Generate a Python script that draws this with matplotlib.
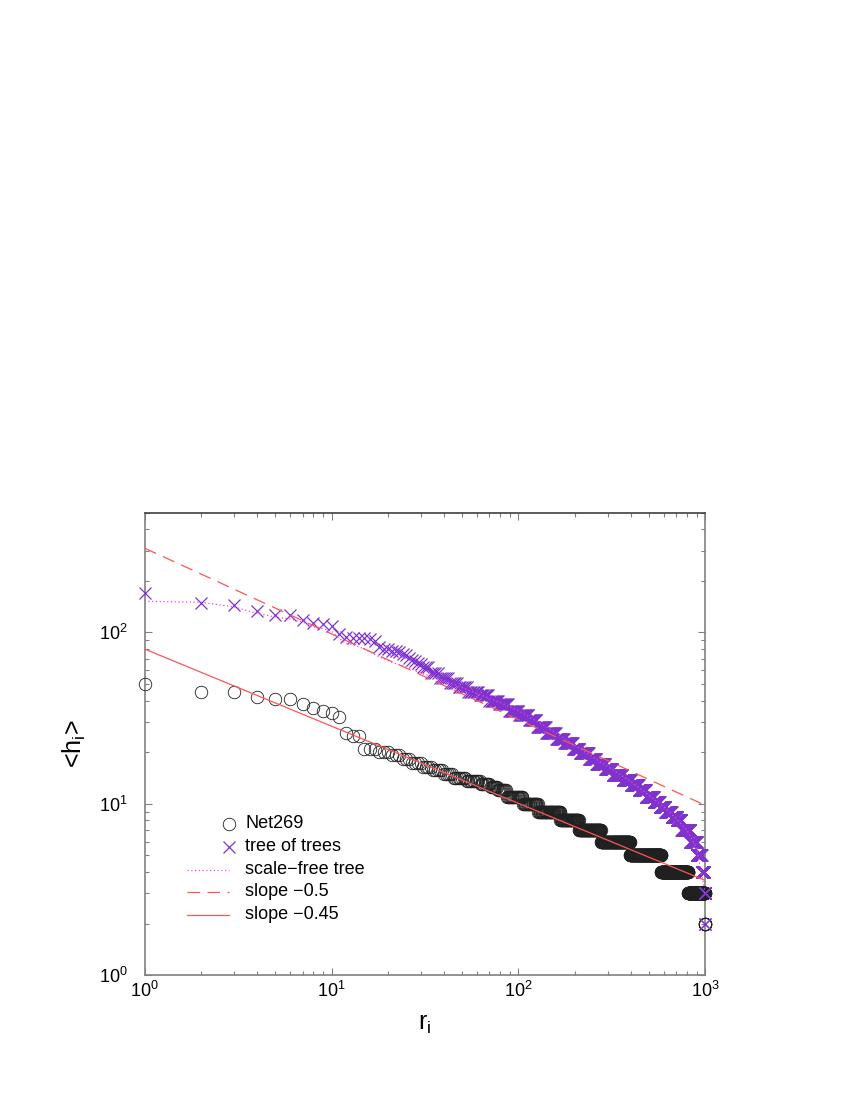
import numpy as np
import matplotlib
matplotlib.use('Agg')
import matplotlib.pyplot as plt

plt.rcParams['font.family'] = ['Liberation Sans', 'DejaVu Sans']
plt.rcParams['mathtext.fontset'] = 'custom'
plt.rcParams['mathtext.rm'] = 'Liberation Sans'
plt.rcParams['mathtext.it'] = 'Liberation Sans:italic'
plt.rcParams['mathtext.default'] = 'regular'

# Net269: first ranks one by one, then runs (value, last rank of the run)
net_head = [50, 45, 45, 42, 41, 41, 38, 36, 35, 34, 32, 26, 25, 25]
net_run_vals = [21, 20, 19.3, 18.2, 17.3, 16.5, 15.8, 15, 14.2, 13.6, 13.1, 12.5,
                12, 11, 10, 9, 8, 7, 6, 5, 4, 3, 2]
net_run_ends = [17, 20, 23, 26, 30, 34, 39, 44, 52, 62, 70, 77,
                86, 105, 127, 167, 210, 276, 395, 580, 810, 995, 1000]

# tree of trees
tt_head = [170, 148, 145, 134, 126, 126, 118, 114, 112, 109, 98, 94, 93, 93, 93,
           92, 89, 82, 80, 80, 78, 78, 77, 75, 74, 71, 69, 68, 66, 65]
tt_run_vals = [63, 58, 54, 51, 48, 45, 43, 40, 38, 35, 33, 31, 28, 26, 24, 22.5, 21,
               19.7, 18.3, 17, 16, 14.8, 13.8, 12.9, 12, 11, 10.3, 9.6, 9, 8.4, 8,
               7, 6, 5, 4, 3, 2]
tt_run_ends = [33, 37, 42, 47, 53, 61, 69, 78, 88, 100, 113, 125, 140, 158, 175, 195, 212,
               238, 260, 290, 318, 360, 400, 440, 480, 530, 570, 610, 660, 705, 745,
               830, 900, 955, 990, 998, 1000]

# scale-free tree
sf_r = [1, 2, 3, 4, 5, 6, 7, 8, 9, 10, 11, 12, 13, 15, 18, 21, 25, 30, 35, 45, 60,
        80, 100, 150, 200, 300, 400, 500, 600, 700, 800, 900, 1000]
sf_h = [152, 150, 141, 129, 123, 120, 115, 108, 105, 102, 92, 86, 85, 80, 72, 67, 63,
        58, 55, 50, 44, 39, 35, 27, 22, 16.5, 13.5, 11.2, 9.6, 8.2, 7, 5.5, 3]

# power laws
fit_range = [1, 1000]
amp_05, slope_05 = 310, -0.5
amp_045, slope_045 = 80, -0.45

legend_labels = ['Net269', 'tree of trees', 'scale\u2212free tree',
                 'slope \u22120.5', 'slope \u22120.45']


def expand(head, vals, ends):
    counts = np.diff(np.r_[len(head), ends])
    return np.r_[head, np.repeat(vals, counts)]


net_h = expand(net_head, net_run_vals, net_run_ends)
net_r = np.arange(1, len(net_h) + 1)
tt_h = expand(tt_head, tt_run_vals, tt_run_ends)
tt_r = np.arange(1, len(tt_h) + 1)
r_fit = np.array(fit_range, dtype=float)

purple = '#8033cc'
magenta = '#ee44ee'
red = '#ff5555'
circ = '#202020'

fig = plt.figure(figsize=(8.5, 11), dpi=100)
ax = fig.add_axes([0.1702, 0.1134, 0.6595, 0.4206])
ax.set_xscale('log')
ax.set_yscale('log')

ax.plot(net_r, net_h, 'o', mfc='none', mec=circ, ms=9, mew=0.6, clip_on=False, zorder=3)
ax.plot(tt_r, tt_h, 'x', color=purple, ms=8.5, mew=0.9, clip_on=False, zorder=3)
ax.plot(sf_r, sf_h, color=magenta, lw=0.9, dashes=(1, 2), zorder=4)
ax.plot(r_fit, amp_05 * r_fit ** slope_05, color=red, lw=0.9, dashes=(10, 6), zorder=4)
ax.plot(r_fit, amp_045 * r_fit ** slope_045, color=red, lw=0.9, zorder=4)

ax.set_xlim(1, 1000)
ax.set_ylim(1, 500)

ax.tick_params(which='both', direction='in', top=True, right=True, color='#808080')
ax.tick_params(which='major', length=5, width=0.8, labelsize=13)
ax.tick_params(which='minor', length=3, width=0.8)
ax.tick_params(axis='x', pad=4)
ax.tick_params(axis='y', pad=12)
for s in ax.spines.values():
    s.set_color('#808080')
    s.set_linewidth(1.2)
ax.spines['top'].set_color('#404040')

ax.set_xlabel('r$_i$', fontsize=18, labelpad=8)
ax.set_ylabel('<h$_i$>', fontsize=18, labelpad=8)

# legend drawn by hand, gnuplot style (marker at the right end of the sample)
rows = [0.327, 0.278, 0.228, 0.180, 0.131]
x0, x1, xt = 0.0755, 0.150, 0.179
kw = dict(transform=ax.transAxes, clip_on=False)
ax.plot([x1], [rows[0]], 'o', mfc='none', mec=circ, ms=9, mew=0.6, **kw)
ax.plot([x1], [rows[1]], 'x', color=purple, ms=8.5, mew=0.9, **kw)
ax.plot([x0, x1], [rows[2]] * 2, color=magenta, lw=0.9, dashes=(1, 2), **kw)
ax.plot([x0, x1], [rows[3]] * 2, color=red, lw=0.9, dashes=(10, 6), **kw)
ax.plot([x0, x1], [rows[4]] * 2, color=red, lw=0.9, **kw)
for y, lab in zip(rows, legend_labels):
    ax.text(xt, y, lab, transform=ax.transAxes, fontsize=13, va='center', ha='left')

fig.savefig('out.png', dpi=100)
